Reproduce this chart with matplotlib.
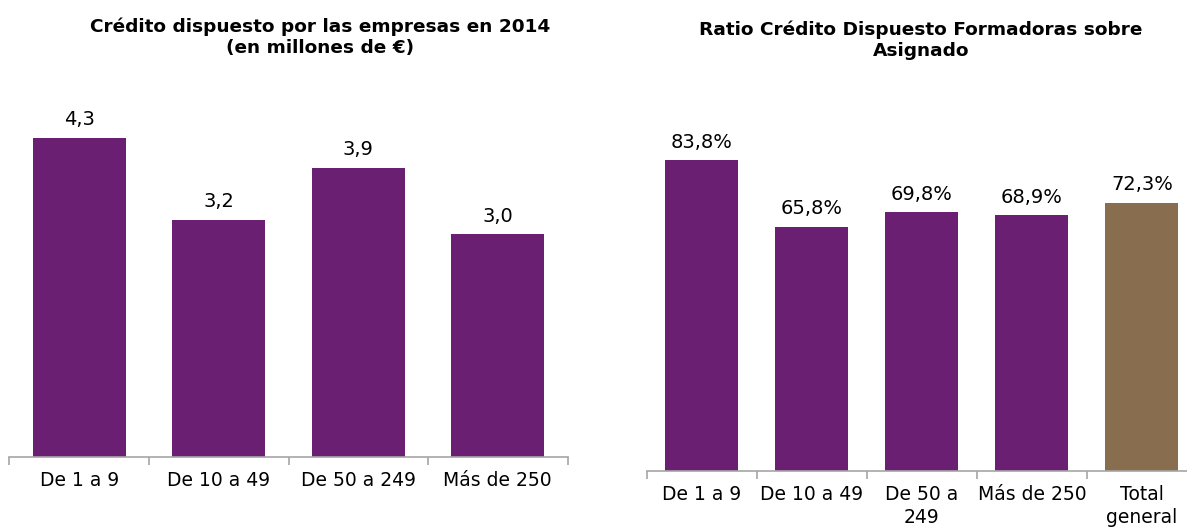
import matplotlib.pyplot as plt
import numpy as np

# Crédito dispuesto (millones de €)
sizes_left = ['De 1 a 9', 'De 10 a 49', 'De 50 a 249', 'Más de 250']
credito = [4.3, 3.2, 3.9, 3.0]

# Ratio crédito dispuesto / asignado (%)
sizes_right = ['De 1 a 9', 'De 10 a 49', 'De 50 a\n249', 'Más de 250', 'Total\ngeneral']
ratio = [83.8, 65.8, 69.8, 68.9, 72.3]

purple = '#6B1F73'
brown = '#886E4F'
gray = '#A6A6A6'

plt.rcParams['font.family'] = ['DejaVu Sans']

fig = plt.figure(figsize=(11.87, 5.28), dpi=100)


def style_axis(ax, n):
    for s in ['top', 'right', 'left']:
        ax.spines[s].set_visible(False)
    ax.spines['bottom'].set_color(gray)
    ax.spines['bottom'].set_linewidth(1.2)
    ax.set_yticks([])
    ax.set_xlim(-0.5, n - 0.5)
    ax.set_xticks(np.arange(n))
    ax.set_xticks(np.arange(n + 1) - 0.5, minor=True)
    ax.tick_params(axis='x', which='major', length=0, labelsize=13.5, pad=10)
    ax.tick_params(axis='x', which='minor', length=6, color=gray, width=1.2)


# left chart
ax1 = fig.add_axes([0.008, 0.1345, 0.4701, 0.7027])
x = np.arange(len(credito))
ax1.bar(x, credito, width=0.667, color=purple)
ax1.set_ylim(0, 5)
style_axis(ax1, len(credito))
ax1.set_xticklabels(sizes_left)
for i, v in enumerate(credito):
    ax1.annotate(f'{v:.1f}'.replace('.', ','), (x[i], v), xytext=(0, 9),
                 textcoords='offset points', ha='center', va='baseline', fontsize=14)
fig.text(0.2696, 0.930, 'Crédito dispuesto por las empresas en 2014\n(en millones de €)',
         ha='center', va='center', fontsize=13.3, fontweight='bold', linespacing=1.22)

# right chart
ax2 = fig.add_axes([0.545, 0.108, 0.4634, 0.7027])
x = np.arange(len(ratio))
colors = [purple] * (len(ratio) - 1) + [brown]
ax2.bar(x, ratio, width=0.664, color=colors)
ax2.set_ylim(0, 100)
style_axis(ax2, len(ratio))
ax2.set_xticklabels(sizes_right, linespacing=1.25)
for i, v in enumerate(ratio):
    ax2.annotate(f'{v:.1f}%'.replace('.', ','), (x[i], v), xytext=(0, 9),
                 textcoords='offset points', ha='center', va='baseline', fontsize=14)
fig.text(0.776, 0.924, 'Ratio Crédito Dispuesto Formadoras sobre\nAsignado',
         ha='center', va='center', fontsize=13.3, fontweight='bold', linespacing=1.22)

fig.savefig('out.png', dpi=100)
